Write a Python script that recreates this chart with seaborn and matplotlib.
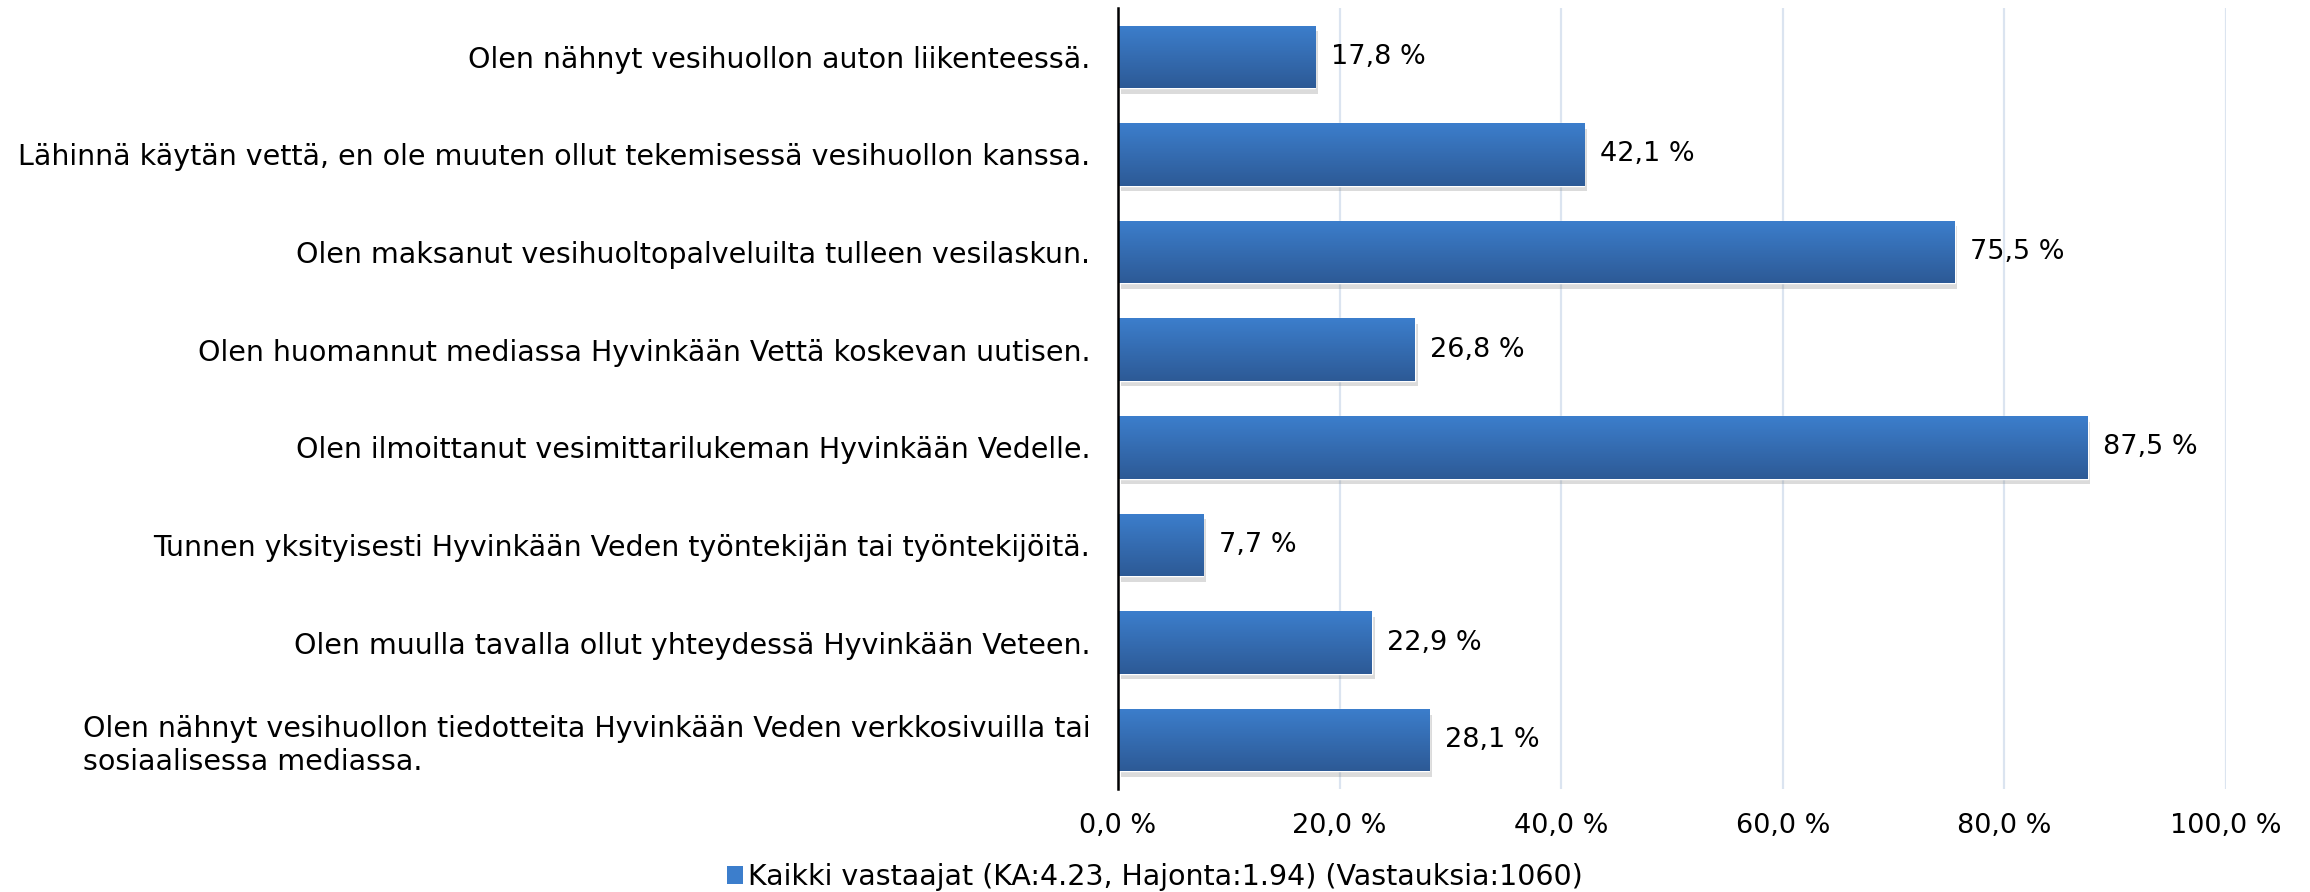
import matplotlib
matplotlib.use("Agg")
import matplotlib.pyplot as plt
import matplotlib.patheffects as pe
from matplotlib.colors import LinearSegmentedColormap
from matplotlib.patches import Patch
import numpy as np
import seaborn as sns

categories = [
    "Olen nähnyt vesihuollon auton liikenteessä.",
    "Lähinnä käytän vettä, en ole muuten ollut tekemisessä vesihuollon kanssa.",
    "Olen maksanut vesihuoltopalveluilta tulleen vesilaskun.",
    "Olen huomannut mediassa Hyvinkään Vettä koskevan uutisen.",
    "Olen ilmoittanut vesimittarilukeman Hyvinkään Vedelle.",
    "Tunnen yksityisesti Hyvinkään Veden työntekijän tai työntekijöitä.",
    "Olen muulla tavalla ollut yhteydessä Hyvinkään Veteen.",
    "Olen nähnyt vesihuollon tiedotteita Hyvinkään Veden verkkosivuilla tai\nsosiaalisessa mediassa.",
]
values = [17.8, 42.1, 75.5, 26.8, 87.5, 7.7, 22.9, 28.1]
x_ticks = [0, 20, 40, 60, 80, 100]
legend_label = "Kaikki vastaajat (KA:4.23, Hajonta:1.94) (Vastauksia:1060)"

top_col = "#3c7ecc"
bot_col = "#2d5a96"

sns.set_theme(style="white")
plt.rcParams["font.family"] = ["DejaVu Sans"]
plt.rcParams["text.color"] = "black"
plt.rcParams["xtick.color"] = "black"
plt.rcParams["ytick.color"] = "black"

fig = plt.figure(figsize=(23.1, 8.92), dpi=100)
ax = fig.add_axes([1118 / 2310, 1 - 789 / 892, (2226 - 1118) / 2310, (789 - 8) / 892])

sns.barplot(x=values, y=categories, orient="h", width=0.64, color=top_col,
            saturation=1, ax=ax, zorder=2)

ax.set_xlim(0, 100)
xlim, ylim = ax.get_xlim(), ax.get_ylim()

# vertical gradient + soft shadow on every bar
cmap = LinearSegmentedColormap.from_list("bar", [top_col, bot_col])
grad = np.linspace(0, 1, 100).reshape(-1, 1)
for p in ax.patches:
    x0, y0 = p.get_x(), p.get_y()
    w, h = p.get_width(), p.get_height()
    p.set_path_effects([pe.SimplePatchShadow(offset=(2, -4), shadow_rgbFace="#888888", alpha=0.3),
                        pe.Normal()])
    im = ax.imshow(grad, cmap=cmap, aspect="auto", extent=(x0, x0 + w, y0 + h, y0),
                   origin="upper", zorder=3, interpolation="bilinear")
    im.set_clip_path(p)
ax.set_xlim(xlim)
ax.set_ylim(ylim)

labels = [f"{v:.1f} %".replace(".", ",") for v in values]
ax.bar_label(ax.containers[0], labels=labels, padding=11, fontsize=19.5, color="black")

ax.set_xticks(x_ticks)
ax.set_xticklabels([f"{t:.1f} %".replace(".", ",") for t in x_ticks], fontsize=19.5)
ax.grid(axis="x", color="#dbe4f0", linewidth=1.6, zorder=0)
ax.set_axisbelow(True)
ax.tick_params(axis="x", length=0, pad=17)
ax.tick_params(axis="y", length=0, pad=20, labelsize=20.5)
for lab in ax.get_yticklabels():
    lab.set_multialignment("left")
ax.set_xlabel("")
ax.set_ylabel("")

for s in ["top", "right", "bottom"]:
    ax.spines[s].set_visible(False)
ax.spines["left"].set_color("black")
ax.spines["left"].set_linewidth(1.8)
ax.spines["left"].set_zorder(5)

handle = Patch(facecolor=top_col, edgecolor="none")
fig.legend([handle], [legend_label], loc="center", bbox_to_anchor=(0.5, 1 - 877 / 892),
           frameon=False, fontsize=20.5, handlelength=0.55, handleheight=0.55,
           handletextpad=0.2)

fig.savefig("out.png", dpi=100)
